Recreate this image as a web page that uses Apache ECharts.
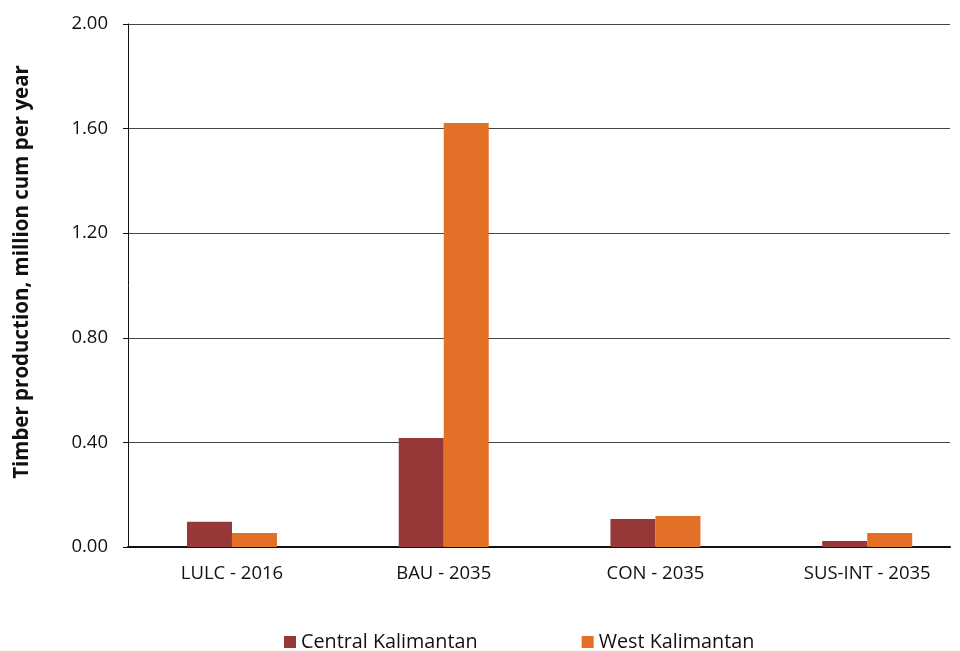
<!DOCTYPE html>
<html><head><meta charset="utf-8">
<script src="https://cdn.jsdelivr.net/npm/echarts@6/dist/echarts.min.js"></script>
<style>html,body{margin:0;padding:0;background:#fff}#c{width:960px;height:651px}</style>
</head><body><div id="c"></div>
<script>
const categories = ["LULC - 2016", "BAU - 2035", "CON - 2035", "SUS-INT - 2035"];
const central = [0.097, 0.417, 0.107, 0.023];
const west = [0.054, 1.621, 0.119, 0.054];
const seriesNames = ["Central Kalimantan", "West Kalimantan"];
const yTicks = [0, 0.4, 0.8, 1.2, 1.6, 2.0];
const yName = 'Timber production, million cum per year';
const font = "'Open Sans', 'Noto Sans', sans-serif";
const catIdx = categories.map((c, i) => i);
const chart = echarts.init(document.getElementById('c'));
chart.setOption({
  animation: false,
  backgroundColor: '#fff',
  textStyle: {fontFamily: font},
  grid: {left: 128, right: 10, top: 24, bottom: 104},
  legend: {
    left: 284, top: 632, padding: 0, itemWidth: 12, itemHeight: 12, itemGap: 104,
    icon: 'rect',
    textStyle: {fontSize: 19.8, color: '#111', fontFamily: font}
  },
  graphic: [{
    type: 'text', x: 22, y: 272, rotation: Math.PI / 2,
    style: {text: yName, fontSize: 20.5, fontWeight: 'bold', fill: '#111',
      fontFamily: font, align: 'center', verticalAlign: 'middle'}
  }],
  xAxis: {
    type: 'value', min: -0.4911, max: 3.391,
    axisLine: {show: true, onZero: false, lineStyle: {color: '#111', width: 2}},
    axisTick: {show: false},
    splitLine: {show: false},
    axisLabel: {fontSize: 18.5, color: '#111', margin: 17, fontFamily: font,
      customValues: catIdx, showMinLabel: true, showMaxLabel: true, hideOverlap: false,
      formatter: v => categories[Math.round(v)] || ''}
  },
  yAxis: {
    type: 'value', min: 0, max: 2, interval: 0.4,
    axisLine: {show: true, onZero: false, lineStyle: {color: '#111', width: 1}},
    axisTick: {show: true, length: 5, lineStyle: {color: '#111'}},
    splitLine: {lineStyle: {color: '#444', width: 1}},
    axisLabel: {fontSize: 18.5, color: '#111', margin: 20, fontFamily: font,
      formatter: v => yTicks.some(t => Math.abs(t - v) < 1e-9) ? v.toFixed(2) : ''}
  },
  series: [
    {name: seriesNames[0], type: 'bar', data: central.map((v, i) => [catIdx[i], v]),
     barWidth: 45, barGap: '0%', itemStyle: {color: '#973838'}},
    {name: seriesNames[1], type: 'bar', data: west.map((v, i) => [catIdx[i], v]),
     barWidth: 45, itemStyle: {color: '#E37027'}}
  ]
});
</script></body></html>
